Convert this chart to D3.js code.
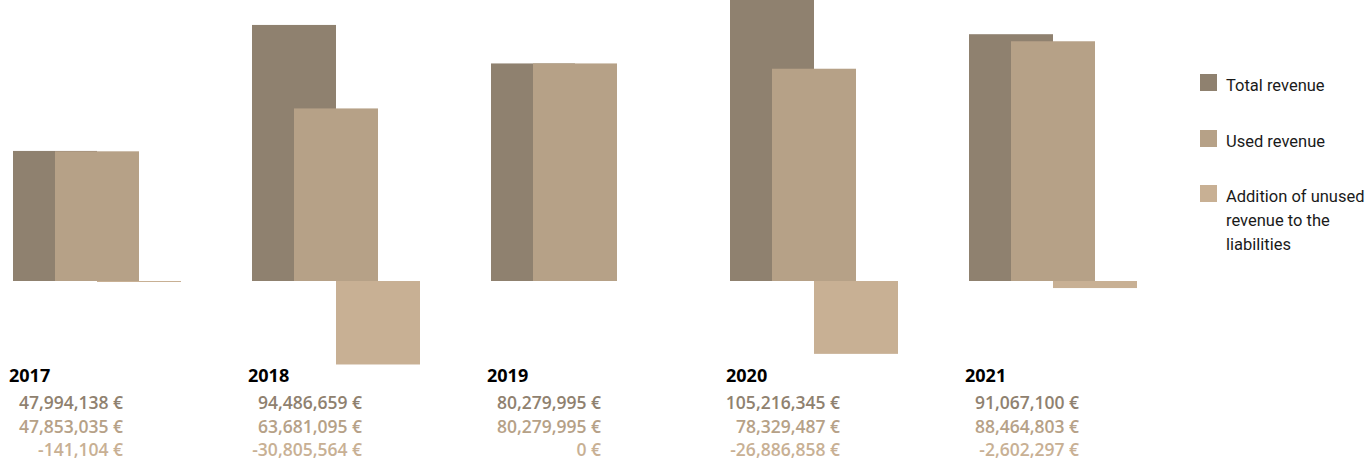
<!DOCTYPE html>
<html>
<head>
<meta charset="utf-8">
<script src="https://cdn.jsdelivr.net/npm/d3@7/dist/d3.min.js"></script>
<style>
  html, body { margin: 0; padding: 0; background: #fff; }
  svg { display: block; }
</style>
</head>
<body>
<svg id="chart" width="1367" height="461"></svg>
<script>
// ---- data ----
const years = ["2017", "2018", "2019", "2020", "2021"];
const totalRevenue = [47994138, 94486659, 80279995, 105216345, 91067100];
const usedRevenue = [47853035, 63681095, 80279995, 78329487, 88464803];
const unusedAddition = [-141104, -30805564, 0, -26886858, -2602297];
const seriesNames = ["Total revenue", "Used revenue", "Addition of unused revenue to the liabilities"];
const legendLines = [["Total revenue"], ["Used revenue"], ["Addition of unused", "revenue to the", "liabilities"]];

// ---- style ----
const colors = ["#8f816f", "#b6a187", "#c8b094"];
const svg = d3.select("#chart");

const x = d3.scaleBand().domain(years).range([13, 13 + 239 * years.length]);
const y = d3.scaleLinear().domain([0, 100000000]).range([281, 10]);
const barW = 84, offset = 42;

const fmt = d3.format(",");
const euro = v => fmt(v).replace("\u2212", "-") + " €";

const series = [totalRevenue, usedRevenue, unusedAddition];

const g = svg.append("g");
series.forEach((vals, si) => {
  g.selectAll(".bar" + si)
    .data(years.map((yr, i) => ({ yr, v: vals[i] })).filter(d => d.v !== 0))
    .enter().append("rect")
    .attr("x", d => x(d.yr) + si * offset)
    .attr("width", barW)
    .attr("y", d => Math.min(y(d.v), y(0)))
    .attr("height", d => Math.max(1, Math.abs(y(d.v) - y(0))))
    .attr("fill", colors[si]);
});

const font = "'Open Sans', 'DejaVu Sans', sans-serif";
g.selectAll(".yr").data(years).enter().append("text")
  .attr("x", d => x(d) - 4)
  .attr("y", 382)
  .attr("font-family", font)
  .attr("font-weight", 700)
  .attr("font-size", 18)
  .attr("fill", "#000")
  .text(d => d);

const rowY = [409, 433, 456];
series.forEach((vals, si) => {
  g.selectAll(".val" + si).data(years).enter().append("text")
    .attr("x", d => x(d) + 110)
    .attr("y", rowY[si])
    .attr("text-anchor", "end")
    .attr("font-family", font)
    .attr("font-weight", 600)
    .attr("font-size", 17.5)
    .attr("fill", colors[si])
    .text((d, i) => euro(vals[i]));
});

// legend
const legY = [74, 130, 185];
const leg = svg.append("g");
seriesNames.forEach((name, si) => {
  leg.append("rect")
    .attr("x", 1200).attr("y", legY[si])
    .attr("width", 17).attr("height", 17)
    .attr("fill", colors[si]);
  const t = leg.append("text")
    .attr("font-family", "'Liberation Sans Narrow', Roboto, sans-serif")
    .attr("font-size", 16.5)
    .attr("fill", "#1a1a1a");
  legendLines[si].forEach((ln, li) => {
    t.append("tspan").attr("x", 1226).attr("y", legY[si] + 17 + li * 24).text(ln);
  });
});
</script>
</body>
</html>
